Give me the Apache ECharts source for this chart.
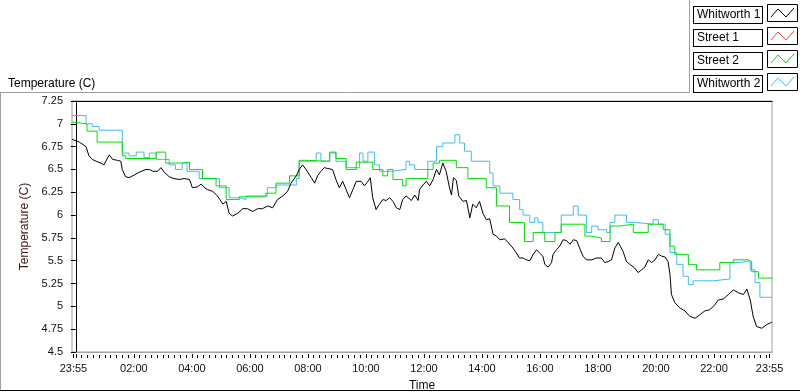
<!DOCTYPE html>
<html>
<head>
<meta charset="utf-8">
<script src="https://cdn.jsdelivr.net/npm/echarts@6/dist/echarts.min.js"></script>
<style>
  html, body { margin: 0; padding: 0; background: #fff; }
  #chart { width: 800px; height: 392px; }
</style>
</head>
<body>
<div id="chart"></div>
<script>
// time = minutes after midnight; the log starts 23:55 the evening before
const w1Min = [-8,7,21,27,34,42,52,58,69,76,86,93,96,103,110,121,131,145,152,159,169,176,183,193,203,214,224,235,241,252,259,266,272,283,293,304,311,317,324,335,345,355,366,376,386,397,407,417,428,438,445,456,462,469,476,487,494,500,507,514,521,531,538,545,552,559,566,573,580,590,597,604,609,614,621,628,635,642,649,656,663,670,676,683,694,701,708,711,718,725,732,739,746,752,759,766,772,777,781,787,792,801,808,815,821,828,835,842,849,856,863,870,877,887,894,904,918,925,932,939,946,953,960,966,970,977,984,987,994,1001,1008,1015,1022,1029,1036,1042,1049,1056,1067,1077,1087,1094,1101,1108,1115,1122,1125,1132,1139,1146,1156,1163,1170,1177,1184,1191,1198,1205,1212,1219,1225,1229,1232,1239,1250,1260,1270,1281,1291,1301,1310,1319,1329,1339,1350,1360,1370,1381,1388,1395,1401,1408,1419,1429,1437,1440];
const w1Temp = [6.83,6.80,6.75,6.65,6.61,6.59,6.57,6.55,6.66,6.61,6.60,6.59,6.50,6.42,6.41,6.44,6.47,6.50,6.50,6.48,6.48,6.52,6.47,6.42,6.40,6.39,6.40,6.39,6.30,6.31,6.34,6.30,6.28,6.26,6.21,6.12,6.15,6.02,5.99,6.02,6.07,6.07,6.04,6.07,6.07,6.10,6.08,6.17,6.21,6.26,6.35,6.43,6.50,6.55,6.50,6.41,6.35,6.43,6.48,6.52,6.51,6.50,6.39,6.30,6.37,6.28,6.19,6.28,6.37,6.37,6.32,6.37,6.41,6.19,6.06,6.12,6.17,6.16,6.19,6.15,6.08,6.06,6.17,6.21,6.16,6.22,6.16,6.28,6.33,6.37,6.32,6.39,6.50,6.44,6.57,6.48,6.32,6.22,6.41,6.38,6.21,6.15,6.16,5.97,6.12,6.08,6.15,6.02,5.95,5.96,5.79,5.77,5.73,5.74,5.70,5.64,5.53,5.53,5.51,5.50,5.57,5.62,5.58,5.55,5.46,5.43,5.48,5.57,5.62,5.66,5.73,5.72,5.68,5.73,5.72,5.64,5.55,5.51,5.51,5.53,5.53,5.48,5.49,5.51,5.64,5.70,5.71,5.60,5.49,5.46,5.42,5.37,5.40,5.43,5.51,5.48,5.51,5.57,5.55,5.54,5.49,5.35,5.13,5.04,4.98,4.95,4.89,4.87,4.91,4.95,4.96,5.00,5.07,5.08,5.13,5.18,5.15,5.13,5.19,5.07,4.89,4.78,4.76,4.80,4.82,4.83];

// Street 1 has no samples in this log
const s1Min = [];
const s1Temp = [];

const s2Min = [-8,-4,23,44,96,103,166,186,221,235,262,290,311,338,393,414,442,462,473,525,538,559,580,614,635,645,656,676,683,728,739,752,787,811,849,870,897,928,946,970,991,1004,1053,1067,1087,1105,1125,1153,1184,1215,1229,1239,1267,1284,1332,1360,1391,1398,1412,1440];
const s2Temp = [7.02,7.00,6.92,6.80,6.65,6.62,6.69,6.57,6.58,6.50,6.40,6.32,6.17,6.20,6.24,6.35,6.43,6.60,6.59,6.69,6.62,6.50,6.58,6.50,6.43,6.50,6.39,6.32,6.40,6.50,6.57,6.60,6.52,6.40,6.30,6.10,5.92,5.71,5.81,5.71,5.81,5.90,5.77,5.75,5.71,5.88,5.90,5.81,5.90,5.84,5.66,5.57,5.46,5.40,5.48,5.51,5.49,5.38,5.31,5.30];

const w2Min = [-8,21,34,48,96,110,125,141,152,166,193,206,220,230,255,297,317,338,352,396,414,456,462,497,507,525,538,559,587,594,604,618,628,652,683,690,701,728,746,759,784,794,804,818,856,863,877,904,918,925,939,949,956,966,1004,1029,1039,1056,1067,1080,1098,1105,1115,1139,1156,1194,1205,1219,1229,1243,1256,1267,1277,1319,1353,1374,1395,1405,1415,1440];
const w2Temp = [7.09,7.00,6.97,6.93,6.68,6.65,6.69,6.63,6.68,6.61,6.55,6.50,6.57,6.48,6.40,6.30,6.19,6.17,6.21,6.30,6.33,6.40,6.59,6.68,6.59,6.68,6.59,6.52,6.68,6.59,6.69,6.55,6.48,6.50,6.59,6.55,6.50,6.59,6.75,6.79,6.88,6.79,6.70,6.59,6.46,6.32,6.24,6.17,6.06,6.00,5.92,5.97,5.92,5.81,6.00,6.10,6.00,5.81,5.88,5.84,5.81,5.92,6.00,5.92,5.90,5.95,5.90,5.79,5.59,5.46,5.33,5.24,5.28,5.30,5.48,5.50,5.40,5.26,5.10,5.10];

const seriesNames = ['Whitworth 1', 'Street 1', 'Street 2', 'Whitworth 2'];
const seriesColors = ['#000000', '#f04848', '#00e000', '#40bcf4'];

const labelMinutes = [-5, 120, 240, 360, 480, 600, 720, 840, 960, 1080, 1200, 1320, 1435];
const timeLabels = ['23:55', '02:00', '04:00', '06:00', '08:00', '10:00', '12:00', '14:00', '16:00', '18:00', '20:00', '22:00', '23:55'];

const X_MIN = -8, X_MAX = 1440;
const FONT = 'Liberation Sans';

const zip = (xs, ys) => xs.map((x, i) => [x, ys[i]]);

const majorTicks = [0].concat(labelMinutes);
const minorTicks = [];
for (let m = 12; m < 1435; m += 12) {
  if (m % 120 !== 0) minorTicks.push(m);
}

const chart = echarts.init(document.getElementById('chart'), null, { renderer: 'canvas' });

const baseX = {
  type: 'value', min: X_MIN, max: X_MAX,
  splitLine: { show: false },
  axisLine: { show: false },
  axisTick: { show: false },
  axisLabel: { show: false }
};

// legend swatch boxes (LabVIEW style)
const swatches = seriesNames.map((n, k) => {
  const top = 4 + k * 23;
  return {
    type: 'group',
    children: [
      { type: 'rect', shape: { x: 767.5, y: top + 0.5, width: 30, height: 17 },
        style: { fill: '#fff', stroke: '#000', lineWidth: 1 }, silent: true },
      { type: 'polyline', shape: { points: [[771, top + 13], [778, top + 5], [786, top + 13], [794, top + 4]] },
        style: { stroke: seriesColors[k], lineWidth: 1, fill: null }, silent: true }
    ]
  };
});

const frameColor = '#a0a0a0';
const frame = [
  { type: 'line', shape: { x1: 0.5, y1: 92, x2: 0.5, y2: 391 }, style: { stroke: frameColor, lineWidth: 1 }, silent: true },
  { type: 'line', shape: { x1: 0, y1: 92.5, x2: 689.5, y2: 92.5 }, style: { stroke: frameColor, lineWidth: 1 }, silent: true },
  { type: 'line', shape: { x1: 689.5, y1: 0, x2: 689.5, y2: 92.5 }, style: { stroke: frameColor, lineWidth: 1 }, silent: true },
  { type: 'line', shape: { x1: 0, y1: 390.5, x2: 800, y2: 390.5 }, style: { stroke: '#000', lineWidth: 1 }, silent: true }
];

const option = {
  animation: false,
  backgroundColor: '#fff',
  textStyle: { fontFamily: FONT },
  title: {
    text: 'Temperature (C)',
    left: 3, top: 73,
    textStyle: { fontSize: 12, fontWeight: 'normal', color: '#000', fontFamily: FONT }
  },
  legend: {
    orient: 'vertical',
    left: 684, top: 1,
    itemGap: 5,
    itemWidth: 0, itemHeight: 17,
    icon: 'rect',
    selectedMode: false,
    data: seriesNames,
    textStyle: {
      fontSize: 12, color: '#000', fontFamily: FONT,
      backgroundColor: '#fff', borderColor: '#000', borderWidth: 1,
      padding: [2, 3, 1, 3], lineHeight: 13, width: 62
    }
  },
  grid: {
    left: 72, right: 28, top: 101, bottom: 40,
    outerBoundsMode: 'none',
    show: true, borderColor: frameColor, borderWidth: 1, backgroundColor: '#fff'
  },
  xAxis: [
    Object.assign({}, baseX, {
      position: 'bottom',
      axisLine: { show: true, lineStyle: { color: frameColor, width: 1 } },
      name: 'Time', nameLocation: 'middle', nameGap: 28,
      nameTextStyle: { fontSize: 12, color: '#111', fontFamily: FONT }
    }),
    Object.assign({}, baseX, {
      position: 'bottom', offset: 2,
      axisTick: { show: true, customValues: majorTicks, length: 4, lineStyle: { color: '#000' } },
      axisLabel: {
        show: true, customValues: labelMinutes, margin: 9,
        fontSize: 11, color: '#111', fontFamily: FONT,
        formatter: v => timeLabels[labelMinutes.indexOf(v)] || ''
      }
    }),
    Object.assign({}, baseX, {
      position: 'bottom', offset: 3,
      axisTick: { show: true, customValues: minorTicks, length: 3, lineStyle: { color: '#000' } }
    }),
    Object.assign({}, baseX, {
      position: 'top',
      axisLine: { show: true, lineStyle: { color: '#000', width: 1 } }
    })
  ],
  yAxis: {
    type: 'value', min: 4.5, max: 7.25, interval: 0.25,
    name: 'Temperature (C)', nameLocation: 'middle', nameGap: 39,
    nameTextStyle: { fontSize: 12, color: '#401515', fontFamily: FONT },
    axisLine: { show: true, lineStyle: { color: '#000', width: 1 } },
    axisTick: { show: true, length: 5, lineStyle: { color: '#000' } },
    axisLabel: { fontSize: 11, color: '#111', margin: 9, fontFamily: FONT },
    splitLine: { show: false }
  },
  series: [
    { name: seriesNames[0], type: 'line', data: zip(w1Min, w1Temp), z: 5 },
    { name: seriesNames[1], type: 'line', data: zip(s1Min, s1Temp), z: 4 },
    { name: seriesNames[2], type: 'line', data: zip(s2Min, s2Temp), step: 'end', z: 3 },
    { name: seriesNames[3], type: 'line', data: zip(w2Min, w2Temp), step: 'end', z: 2 }
  ].map((s, i) => Object.assign(s, {
    xAxisIndex: 0,
    showSymbol: false, symbol: 'none',
    lineStyle: { width: 1, color: seriesColors[i] },
    itemStyle: { color: seriesColors[i] },
    emphasis: { disabled: true }
  })),
  graphic: frame.concat(swatches)
};

chart.setOption(option);
</script>
</body>
</html>
